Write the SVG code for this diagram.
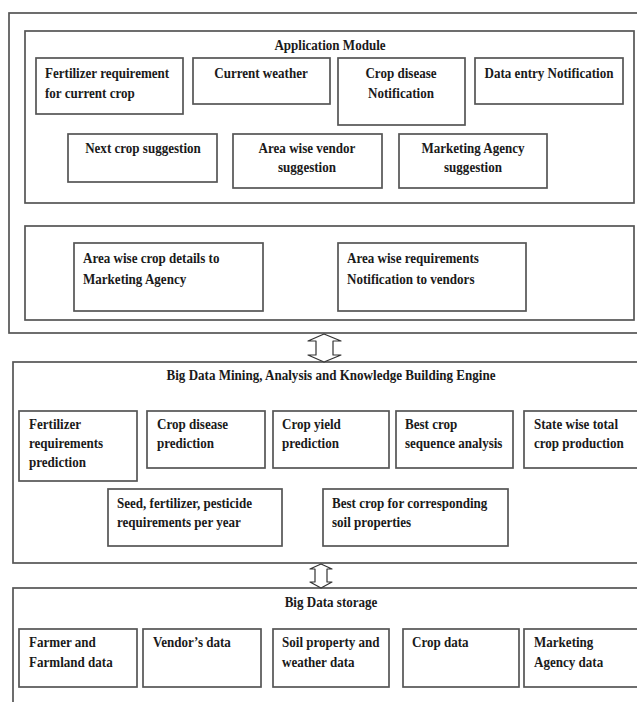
<svg xmlns="http://www.w3.org/2000/svg" width="637" height="702" viewBox="0 0 637 702">
<style>
.frame{fill:none;stroke:#555;stroke-width:1.7}
.box{fill:#fff;stroke:#555;stroke-width:1.7}
text{font-family:"Liberation Serif","Times New Roman",serif;font-weight:bold;font-size:14.5px;fill:#1a1a1a}
.c{text-anchor:middle}
.arrow{fill:#fff;stroke:#333;stroke-width:1.2;stroke-linejoin:round}
</style>
<rect width="637" height="702" fill="#fff"/>

<!-- Top layer -->
<g id="application-layer">
  <rect class="frame" x="9" y="13" width="640" height="320"/>
  <g id="application-module">
    <rect class="frame" x="25" y="31" width="609" height="172"/>
    <text class="c" transform="translate(330,50) scale(0.9,1)">Application Module</text>
  </g>
  <g id="n-fertilizer-req"><rect class="box" x="36" y="58" width="147" height="56"/><text transform="translate(45,78) scale(0.9,1)"><tspan x="0" y="0">Fertilizer requirement</tspan><tspan x="0" y="20">for current crop</tspan></text></g>
  <g id="n-current-weather"><rect class="box" x="193" y="58" width="137" height="46"/><text class="c" transform="translate(261,78) scale(0.9,1)">Current weather</text></g>
  <g id="n-crop-disease-notif"><rect class="box" x="338" y="58" width="127" height="67"/><text class="c" transform="translate(401,78) scale(0.9,1)"><tspan x="0" y="0">Crop disease</tspan><tspan x="0" y="20">Notification</tspan></text></g>
  <g id="n-data-entry"><rect class="box" x="475" y="58" width="148" height="46"/><text class="c" transform="translate(549,78) scale(0.9,1)">Data entry Notification</text></g>
  <g id="n-next-crop"><rect class="box" x="68" y="134" width="149" height="48"/><text class="c" transform="translate(143,153) scale(0.9,1)">Next crop suggestion</text></g>
  <g id="n-area-vendor"><rect class="box" x="233" y="134" width="149" height="54"/><text class="c" transform="translate(307,153) scale(0.9,1)"><tspan x="0" y="0">Area wise vendor</tspan><tspan x="0" y="19">suggestion</tspan></text></g>
  <g id="n-marketing-sugg"><rect class="box" x="399" y="134" width="148" height="54"/><text class="c" transform="translate(473,153) scale(0.9,1)"><tspan x="0" y="0">Marketing Agency</tspan><tspan x="0" y="19">suggestion</tspan></text></g>
  <g id="notification-module">
    <rect class="frame" x="25" y="226" width="609" height="94"/>
  </g>
  <g id="n-area-crop-details"><rect class="box" x="74" y="243" width="189" height="68"/><text transform="translate(83,263) scale(0.9,1)"><tspan x="0" y="0">Area wise crop details to</tspan><tspan x="0" y="21">Marketing Agency</tspan></text></g>
  <g id="n-area-req-notif"><rect class="box" x="338" y="243" width="188" height="68"/><text transform="translate(347,263) scale(0.9,1)"><tspan x="0" y="0">Area wise requirements</tspan><tspan x="0" y="21">Notification to vendors</tspan></text></g>
</g>

<!-- Middle layer -->
<g id="mining-engine">
  <rect class="frame" x="13" y="362" width="640" height="201"/>
  <text class="c" transform="translate(331,380) scale(0.9,1)">Big Data Mining, Analysis and Knowledge Building Engine</text>
  <g id="n-fert-pred"><rect class="box" x="19" y="411" width="118" height="70"/><text transform="translate(29,429) scale(0.9,1)"><tspan x="0" y="0">Fertilizer</tspan><tspan x="0" y="19">requirements</tspan><tspan x="0" y="38">prediction</tspan></text></g>
  <g id="n-disease-pred"><rect class="box" x="147" y="411" width="118" height="57"/><text transform="translate(157,429) scale(0.9,1)"><tspan x="0" y="0">Crop disease</tspan><tspan x="0" y="19">prediction</tspan></text></g>
  <g id="n-yield-pred"><rect class="box" x="273" y="411" width="116" height="57"/><text transform="translate(282,429) scale(0.9,1)"><tspan x="0" y="0">Crop yield</tspan><tspan x="0" y="19">prediction</tspan></text></g>
  <g id="n-best-seq"><rect class="box" x="396" y="411" width="117" height="57"/><text transform="translate(405,429) scale(0.9,1)"><tspan x="0" y="0">Best crop</tspan><tspan x="0" y="19">sequence analysis</tspan></text></g>
  <g id="n-state-total"><rect class="box" x="524" y="411" width="114" height="57"/><text transform="translate(534,429) scale(0.9,1)"><tspan x="0" y="0">State wise total</tspan><tspan x="0" y="19">crop production</tspan></text></g>
  <g id="n-seed-req"><rect class="box" x="108" y="489" width="174" height="57"/><text transform="translate(117,508) scale(0.9,1)"><tspan x="0" y="0">Seed, fertilizer, pesticide</tspan><tspan x="0" y="19">requirements per year</tspan></text></g>
  <g id="n-best-soil"><rect class="box" x="323" y="489" width="185" height="57"/><text transform="translate(332,508) scale(0.9,1)"><tspan x="0" y="0">Best crop for corresponding</tspan><tspan x="0" y="19">soil properties</tspan></text></g>
</g>

<!-- Bottom layer -->
<g id="data-storage">
  <rect class="frame" x="13" y="588" width="640" height="200"/>
  <text class="c" transform="translate(331,607) scale(0.9,1)">Big Data storage</text>
  <g id="n-farmer"><rect class="box" x="19" y="629" width="118" height="58"/><text transform="translate(29,647) scale(0.9,1)"><tspan x="0" y="0">Farmer and</tspan><tspan x="0" y="20">Farmland data</tspan></text></g>
  <g id="n-vendor"><rect class="box" x="143" y="629" width="118" height="58"/><text transform="translate(153,647) scale(0.9,1)">Vendor’s data</text></g>
  <g id="n-soil"><rect class="box" x="273" y="629" width="116" height="58"/><text transform="translate(282,647) scale(0.9,1)"><tspan x="0" y="0">Soil property and</tspan><tspan x="0" y="20">weather data</tspan></text></g>
  <g id="n-crop-data"><rect class="box" x="403" y="629" width="116" height="58"/><text transform="translate(412,647) scale(0.9,1)">Crop data</text></g>
  <g id="n-marketing-data"><rect class="box" x="524" y="629" width="114" height="58"/><text transform="translate(534,647) scale(0.9,1)"><tspan x="0" y="0">Marketing</tspan><tspan x="0" y="20">Agency data</tspan></text></g>
</g>

<!-- Connectors -->
<g id="connectors">
  <polygon class="arrow" points="324,334 341,341 333,341 333,355 341,355 324,362 308,355 316,355 316,341 308,341"/>
  <polygon class="arrow" points="321,564 332,569 327,569 327,582 332,582 321,588 310,582 315,582 315,569 310,569"/>
</g>
</svg>
